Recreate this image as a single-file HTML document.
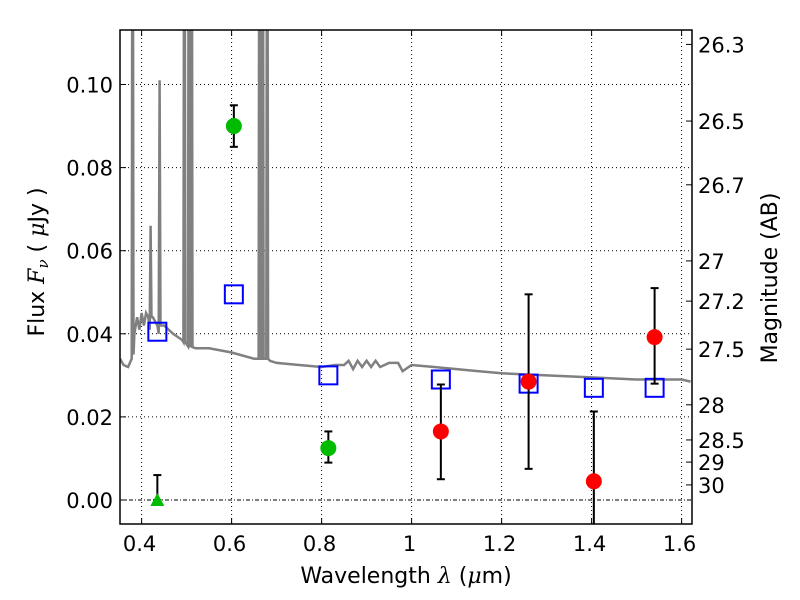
<!DOCTYPE html>
<html><head><meta charset="utf-8"><style>
body{margin:0;background:#fff}
svg{display:block;font-family:"DejaVu Sans","Liberation Sans",sans-serif}
</style></head><body>
<svg id="c" width="800" height="600" viewBox="0 0 800 600"></svg>
<script>
const xTicks=[0.4,0.6,0.8,1.0,1.2,1.4,1.6];
const xTickLabels=["0.4","0.6","0.8","1","1.2","1.4","1.6"];
const yTicks=[0,0.02,0.04,0.06,0.08,0.10];
const yTickLabels=["0.00","0.02","0.04","0.06","0.08","0.10"];
const magTicks=[26.3,26.5,26.7,27,27.2,27.5,28,28.5,29,30];
const greenX=[0.605,0.815];
const greenY=[0.090,0.0125];
const greenLo=[0.085,0.009];
const greenHi=[0.095,0.0165];
const triX=[0.435];const triY=[0.0];const triHi=[0.006];
const redX=[1.065,1.26,1.405,1.54];
const redY=[0.0165,0.0285,0.0045,0.0392];
const redLo=[0.005,0.0075,-0.012,0.028];
const redHi=[0.0278,0.0495,0.0213,0.051];
const sqX=[0.435,0.605,0.815,1.065,1.26,1.405,1.54];
const sqY=[0.0405,0.0495,0.030,0.029,0.028,0.027,0.027];
const specX=[0.352,0.36,0.37,0.378,0.38,0.382,0.384,0.39,0.395,0.40,0.405,0.41,0.415,0.418,0.42,0.422,0.425,0.43,0.435,0.438,0.44,0.442,0.445,0.45,0.47,0.49,0.493,0.495,0.497,0.503,0.505,0.507,0.509,0.511,0.513,0.52,0.55,0.6,0.65,0.66,0.662,0.664,0.667,0.669,0.671,0.677,0.679,0.681,0.685,0.7,0.75,0.8,0.83,0.85,0.86,0.87,0.88,0.89,0.9,0.91,0.92,0.93,0.95,0.97,0.98,1.0,1.05,1.1,1.15,1.2,1.3,1.4,1.5,1.6,1.62];
const specY=[0.034,0.0325,0.032,0.034,0.2,0.035,0.04,0.044,0.041,0.045,0.042,0.045,0.044,0.041,0.066,0.044,0.044,0.043,0.042,0.04,0.101,0.042,0.042,0.042,0.040,0.0385,0.038,0.2,0.038,0.037,0.2,0.037,0.037,0.2,0.0368,0.0365,0.0365,0.0355,0.034,0.034,0.2,0.034,0.034,0.2,0.034,0.034,0.2,0.034,0.0335,0.033,0.0325,0.032,0.0325,0.0325,0.0335,0.0315,0.0335,0.032,0.0335,0.032,0.0335,0.032,0.033,0.033,0.031,0.0325,0.032,0.0315,0.031,0.0305,0.030,0.0295,0.029,0.029,0.0285];
const L=120,R=692,T=30,B=524;
const X=v=>L+(v-0.352)*450, Y=v=>500-v*4155;
const ns="http://www.w3.org/2000/svg",svg=document.getElementById('c');
function mk(t,a,p){const e=document.createElementNS(ns,t);for(const k in a)e.setAttribute(k,a[k]);(p||svg).appendChild(e);return e;}
const cp=mk('clipPath',{id:'cp'});mk('rect',{x:L,y:T,width:R-L,height:B-T},cp);
const grid=mk('g',{});

xTicks.forEach((v,i)=>{mk('line',{x1:X(v),x2:X(v),y1:T,y2:B,stroke:'#000','stroke-width':1,'stroke-dasharray':'1,3'},grid);
 mk('line',{x1:X(v),x2:X(v),y1:B,y2:B-6,stroke:'#000'},grid);mk('line',{x1:X(v),x2:X(v),y1:T,y2:T+6,stroke:'#000'},grid);
 const t=mk('text',{x:X(v)-2,y:B+27,'font-size':21,'text-anchor':'middle'});t.textContent=xTickLabels[i];
 });
yTicks.forEach((v,i)=>{mk('line',{x1:L,x2:R,y1:Y(v),y2:Y(v),stroke:'#000','stroke-width':1,'stroke-dasharray':v===0?'4,2,1,2':'1,3'},grid);
 mk('line',{x1:L,x2:L+6,y1:Y(v),y2:Y(v),stroke:'#000'},grid);
 const t=mk('text',{x:L-7,y:Y(v)+8,'font-size':21,'text-anchor':'end'});t.textContent=yTickLabels[i];
 });
magTicks.forEach(m=>{const y=Y(Math.pow(10,(23.9-m)/2.5));
 mk('line',{x1:R,x2:R-6,y1:y,y2:y,stroke:'#000'});
 const t=mk('text',{x:R+6,y:y+8,'font-size':21});t.textContent=String(m);
 });
const g=mk('g',{'clip-path':'url(#cp)'});
const sp=mk('path',{d:specX.map((v,i)=>(i?'L':'M')+X(v).toFixed(1)+','+Y(specY[i]).toFixed(1)).join(''),fill:'none',stroke:'#808080','stroke-width':2.5},g);

function err(x,lo,hi){mk('line',{x1:X(x),x2:X(x),y1:Y(lo),y2:Y(hi),stroke:'#000','stroke-width':2},g);
 [lo,hi].forEach(v=>mk('line',{x1:X(x)-4,x2:X(x)+4,y1:Y(v),y2:Y(v),stroke:'#000','stroke-width':2},g));}
sqX.forEach((v,i)=>{const r=mk('rect',{x:X(v)-9,y:Y(sqY[i])-9,width:18,height:18,fill:'none',stroke:'#0000ff','stroke-width':2},g);
 });
greenX.forEach((v,i)=>{err(v,greenLo[i],greenHi[i]);const c=mk('circle',{cx:X(v),cy:Y(greenY[i]),r:8,fill:'#00bb00'},g);
 });
triX.forEach((v,i)=>{err(v,triY[i],triHi[i]);const x=X(v),y=Y(triY[i]);const p=mk('polygon',{points:`${x-7},${y+6} ${x+7},${y+6} ${x},${y-7}`,fill:'#00bb00'},g);
 });
redX.forEach((v,i)=>{err(v,redLo[i],redHi[i]);const c=mk('circle',{cx:X(v),cy:Y(redY[i]),r:8,fill:'#ff0000'},g);
 });
const fr=mk('rect',{x:L,y:T,width:R-L,height:B-T,fill:'none',stroke:'#000','stroke-width':1.5});

</script>
<svg style="position:absolute;left:0;top:0" width="800" height="600">
<text x="406" y="583" font-size="22" text-anchor="middle" font-family="DejaVu Sans,sans-serif">Wavelength  <tspan font-style="italic" font-family="DejaVu Serif,serif">λ</tspan> (<tspan font-style="italic" font-family="DejaVu Serif,serif">μ</tspan>m)</text>
<text transform="translate(44,262) rotate(-90)" font-size="22" text-anchor="middle" font-family="DejaVu Sans,sans-serif">Flux  <tspan font-style="italic" font-family="DejaVu Serif,serif">F<tspan font-size="15" dy="4">ν</tspan></tspan><tspan dy="-4">  ( </tspan><tspan font-style="italic" font-family="DejaVu Serif,serif">μ</tspan>Jy )</text>
<text transform="translate(777,278) rotate(-90)" font-size="22" text-anchor="middle" font-family="DejaVu Sans,sans-serif">Magnitude (AB)</text>
</svg>
</body></html>
